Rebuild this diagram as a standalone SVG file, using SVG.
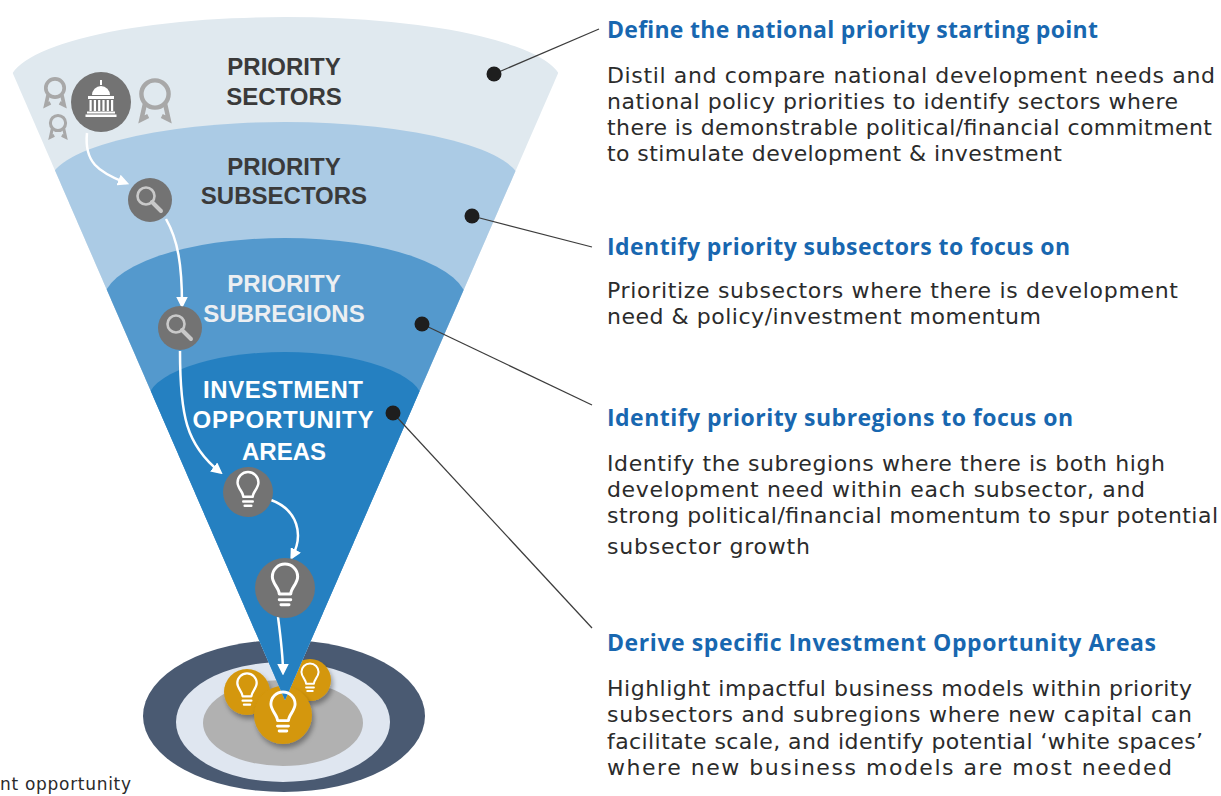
<svg xmlns="http://www.w3.org/2000/svg" width="1221" height="796" viewBox="0 0 1221 796">
<style>
.lbl{font-family:"Liberation Sans",Arial,sans-serif;font-weight:bold;font-size:24px;text-anchor:middle}
.dk{fill:#3a3a3a}
.lt{fill:#eceff2}
.wh{fill:#ffffff}
.hd{font-family:"Open Sans","Liberation Sans",sans-serif;font-weight:bold;font-size:23px;fill:#1867b0}
.bd{font-family:"DejaVu Sans","Liberation Sans",sans-serif;font-size:22px;fill:#2b2b2b}
.lead{stroke:#3c3c3c;stroke-width:1.2;fill:none}
.dot{fill:#1e1e1e}
.flow{stroke:#ffffff;stroke-width:2.5;fill:none;marker-end:url(#ah)}
.ic{fill:#737373}
.gl{stroke:#ffffff;stroke-width:2.6;fill:none;stroke-linecap:round;stroke-linejoin:round}
.mg{stroke:#c9c9c9;fill:none;stroke-linecap:round}
.aw{stroke:#a8a8a8;fill:none;stroke-width:3.2}
.coin{fill:#d4970b;filter:url(#sh)}
</style>
<defs>
<clipPath id="cone"><polygon points="-19,0 590,0 285,700"/></clipPath>
<marker id="ah" viewBox="0 0 10 10" refX="7" refY="5" markerWidth="4.6" markerHeight="4.6" orient="auto" markerUnits="strokeWidth"><path d="M0,0 L10,5 L0,10 Z" fill="#ffffff"/></marker>
<filter id="sh" x="-30%" y="-30%" width="170%" height="170%"><feDropShadow dx="2" dy="4" stdDeviation="2.5" flood-color="#000" flood-opacity="0.35"/></filter>
<filter id="soft" x="-20%" y="-20%" width="140%" height="140%"><feGaussianBlur stdDeviation="0.6"/></filter>
<g id="bulb"><path d="M-5,6 C-5,1 -11,-3 -11,-9 A11,11 0 0 1 11,-9 C11,-3 5,1 5,6 Z"/><path d="M-5,11 H5 M-3.5,15.5 H3.5"/></g>
<g id="award"><circle cx="0" cy="0" r="8"/><path d="M-6,6 L-8,15 L-4,13 M6,6 L8,15 L4,13"/></g>
</defs>

<g id="base">
<ellipse cx="284" cy="716" rx="141" ry="76" fill="#4a5a72"/>
<ellipse cx="283" cy="722" rx="107" ry="60" fill="#dfe6f0"/>
<ellipse cx="283" cy="723" rx="80" ry="43" fill="#b1b1b1"/>
</g>

<g id="coins">
<circle class="coin" cx="310" cy="680" r="21"/>
<circle class="coin" cx="247" cy="692" r="23"/>
<circle class="coin" cx="283" cy="715" r="29"/>
</g>

<g id="funnel" clip-path="url(#cone)">
<g id="band-sectors"><path d="M9.5,83 A276,66 0 0 1 561.5,83 L561.5,800 L9.5,800 Z" fill="#e0e9ef"/></g>
<g id="band-subsectors"><path d="M49,184 A236,62 0 0 1 521,184 L521,800 L49,800 Z" fill="#abcbe5"/></g>
<g id="band-subregions"><path d="M103,302 A182,64 0 0 1 467,302 L467,800 L103,800 Z" fill="#5499cd"/></g>
<g id="band-ioa"><path d="M147,402 A138,50 0 0 1 423,402 L423,800 L147,800 Z" fill="#2580c1"/></g>
</g>

<g id="coin-glyphs">
<use href="#bulb" class="gl" transform="translate(310,679) scale(0.78)"/>
<use href="#bulb" class="gl" transform="translate(247,691) scale(0.88)"/>
<use href="#bulb" class="gl" transform="translate(283,714) scale(1.1)"/>
</g>

<g id="labels">
<text class="lbl dk" x="284" y="75">PRIORITY</text>
<text class="lbl dk" x="284" y="105">SECTORS</text>
<text class="lbl dk" x="284" y="175">PRIORITY</text>
<text class="lbl dk" x="284" y="204">SUBSECTORS</text>
<text class="lbl lt" x="284" y="292">PRIORITY</text>
<text class="lbl lt" x="284" y="322">SUBREGIONS</text>
<text class="lbl wh" x="283" y="398" textLength="160">INVESTMENT</text>
<text class="lbl wh" x="283" y="428" textLength="181">OPPORTUNITY</text>
<text class="lbl wh" x="284" y="460">AREAS</text>
</g>

<g id="connectors">
<path class="lead" d="M494,74 L599,29"/>
<path class="lead" d="M472,216 L592,247"/>
<path class="lead" d="M422,324 L592,405"/>
<path class="lead" d="M393,413 L592,628"/>
<circle class="dot" cx="494" cy="74" r="7.5"/>
<circle class="dot" cx="472" cy="216" r="7.5"/>
<circle class="dot" cx="422" cy="324" r="7.5"/>
<circle class="dot" cx="393" cy="413" r="7.5"/>
<path class="flow" d="M87,133 C84,162 98,172 126,183"/>
<path class="flow" d="M166,219 C178,240 182,265 182,305"/>
<path class="flow" d="M180,351 C180,415 186,445 220,472"/>
<path class="flow" d="M271,500 C298,510 304,535 292,557"/>
<path class="flow" d="M278,617 C281,640 283,655 283,672"/>
</g>

<g id="awards" filter="url(#soft)">
<use href="#award" class="aw" transform="translate(55,88) scale(1.15)"/>
<use href="#award" class="aw" transform="translate(58,123) scale(0.95)"/>
<use href="#award" class="aw" transform="translate(155,94) scale(1.7)" style="stroke-width:2.6"/>
</g>

<g id="icon-sectors">
<circle class="ic" cx="101" cy="102" r="30"/>
<g fill="#ffffff">
<rect x="100" y="80" width="2" height="5"/>
<path d="M92,95 A9,9 0 0 1 110,95 Z"/>
<rect x="88" y="96" width="26" height="3"/>
<rect x="89.5" y="100" width="2.2" height="11"/>
<rect x="93.8" y="100" width="2.2" height="11"/>
<rect x="98.1" y="100" width="2.2" height="11"/>
<rect x="102.4" y="100" width="2.2" height="11"/>
<rect x="106.7" y="100" width="2.2" height="11"/>
<rect x="111" y="100" width="2.2" height="11"/>
<rect x="87" y="111.5" width="28" height="2"/>
<rect x="85.5" y="114.5" width="31" height="2.5"/>
</g>
</g>

<g id="icon-subsectors">
<circle class="ic" cx="150" cy="200" r="22"/>
<circle class="mg" cx="146" cy="196" r="8.5" stroke-width="2.6"/>
<path class="mg" d="M152,202 L161,211" stroke-width="4"/>
</g>

<g id="icon-subregions">
<circle class="ic" cx="180" cy="328" r="22"/>
<circle class="mg" cx="176" cy="324" r="8.5" stroke-width="2.6"/>
<path class="mg" d="M182,330 L191,339" stroke-width="4"/>
</g>

<g id="icon-ioa-1">
<circle class="ic" cx="248" cy="492" r="25"/>
<use href="#bulb" class="gl" transform="translate(248,491) scale(0.95)"/>
</g>

<g id="icon-ioa-2">
<circle class="ic" cx="285" cy="588" r="30"/>
<use href="#bulb" class="gl" transform="translate(285,587) scale(1.15)"/>
</g>

<g id="step-1">
<text class="hd" x="607" y="38" textLength="491">Define the national priority starting point</text>
<text class="bd" x="607" y="83" textLength="608">Distil and compare national development needs and</text>
<text class="bd" x="607" y="109" textLength="571">national policy priorities to identify sectors where</text>
<text class="bd" x="607" y="135" textLength="605">there is demonstrable political/financial commitment</text>
<text class="bd" x="607" y="161" textLength="455">to stimulate development &amp; investment</text>
</g>

<g id="step-2">
<text class="hd" x="607" y="255" textLength="463">Identify priority subsectors to focus on</text>
<text class="bd" x="607" y="298" textLength="571">Prioritize subsectors where there is development</text>
<text class="bd" x="607" y="324" textLength="434">need &amp; policy/investment momentum</text>
</g>

<g id="step-3">
<text class="hd" x="607" y="426" textLength="466">Identify priority subregions to focus on</text>
<text class="bd" x="607" y="471" textLength="558">Identify the subregions where there is both high</text>
<text class="bd" x="607" y="497" textLength="538">development need within each subsector, and</text>
<text class="bd" x="607" y="523" textLength="611">strong political/financial momentum to spur potential</text>
<text class="bd" x="607" y="554" textLength="203">subsector growth</text>
</g>

<g id="step-4">
<text class="hd" x="607" y="651" textLength="549">Derive specific Investment Opportunity Areas</text>
<text class="bd" x="607" y="696" textLength="585">Highlight impactful business models within priority</text>
<text class="bd" x="607" y="722" textLength="585">subsectors and subregions where new capital can</text>
<text class="bd" x="607" y="749" textLength="596">facilitate scale, and identify potential ‘white spaces’</text>
<text class="bd" x="607" y="775" textLength="565">where new business models are most needed</text>
</g>

<g id="footnote">
<text class="bd" x="0" y="790" style="font-size:17px" textLength="131">nt opportunity</text>
</g>
</svg>
